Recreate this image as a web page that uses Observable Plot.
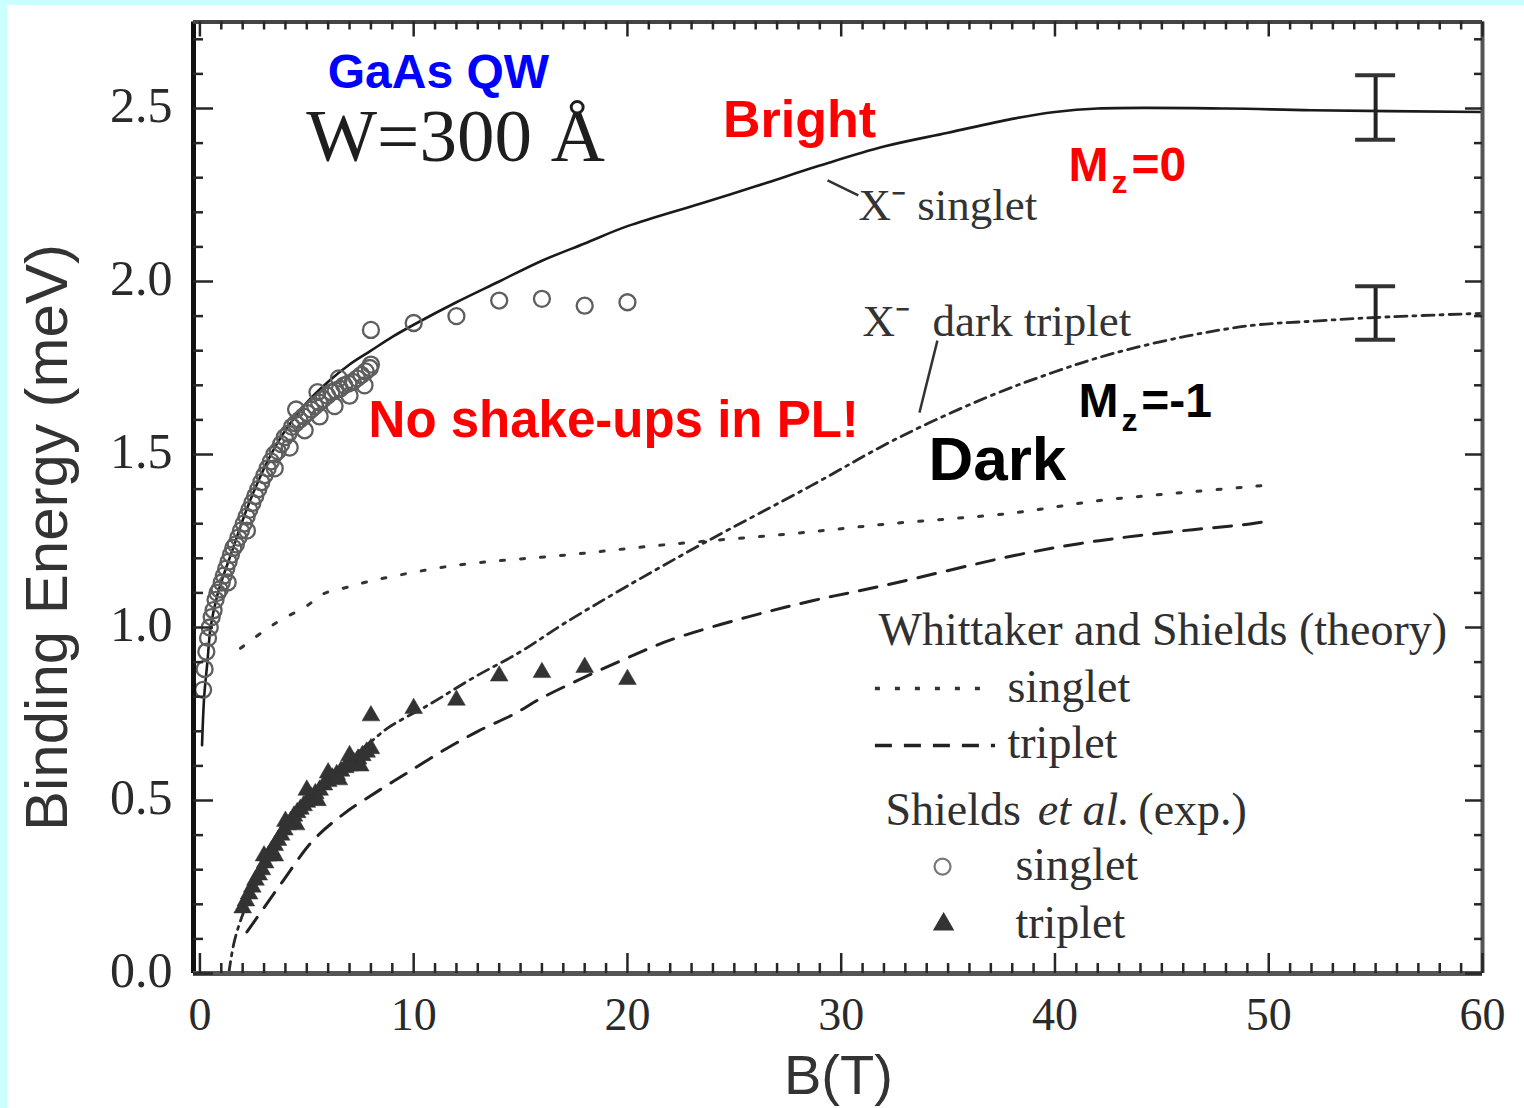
<!DOCTYPE html>
<html><head><meta charset="utf-8">
<script src="https://cdn.jsdelivr.net/npm/d3@7"></script>
<script src="https://cdn.jsdelivr.net/npm/@observablehq/plot@0.6"></script>
<style>
html,body{margin:0;padding:0;background:#ccffff;width:1524px;height:1108px;overflow:hidden;}
#chart{position:absolute;left:7px;top:5px;width:1517px;height:1103px;background:#fff;overflow:hidden;}
</style></head><body><div id="chart"></div>
<script>
// ---------- data (B in tesla, E in meV) ----------
const solidB = [0.1,0.2,0.35,0.5,0.8,1.1,1.5,2,2.5,3,3.5,4,5,6,7,8,9,10,12,14,16,18,20,23.4,26,29,32,35,38,40,42,48,52,60];
const solidE = [0.66,0.80,0.90,1.00,1.09,1.15,1.22,1.31,1.39,1.46,1.52,1.57,1.65,1.71,1.76,1.80,1.84,1.875,1.94,2.00,2.06,2.11,2.16,2.225,2.275,2.335,2.39,2.43,2.47,2.49,2.50,2.50,2.495,2.49];

const darkB = [1.35,1.6,2.0,2.5,3,4,5,6,7,8,8.8,10.8,12.8,15,17,20,23.6,28.6,32.6,36.8,39.9,42.6,46,49.2,52,55,60];
const darkE = [0.0,0.09,0.17,0.24,0.30,0.41,0.49,0.56,0.62,0.67,0.71,0.78,0.855,0.93,1.01,1.12,1.245,1.41,1.546,1.665,1.737,1.79,1.84,1.873,1.885,1.896,1.908];

const wsSingB = [1.9,3.0,3.9,4.9,5.8,6.8,7.7,8.8,12,17.2,21.9,27.5,32.3,37.9,42.1,46,49.7];
const wsSingE = [0.94,0.99,1.026,1.058,1.098,1.115,1.13,1.145,1.18,1.21,1.24,1.27,1.30,1.33,1.367,1.39,1.41];

const wsTripB = [2.2,3.8,5.3,6.7,8.4,9.7,11.4,13,14.7,16.1,20.8,22.3,25.6,28.7,31.9,38.1,41.2,44.5,49.2,49.7];
const wsTripE = [0.12,0.26,0.385,0.46,0.53,0.58,0.645,0.70,0.75,0.80,0.934,0.97,1.03,1.078,1.12,1.208,1.243,1.27,1.30,1.305];

const expSingB = [0.15,0.22,0.3,0.38,0.46,0.55,0.64,0.73,0.82,0.92,1.02,1.12,1.23,1.34,1.45,1.56,1.68,1.8,1.92,2.05,2.18,2.31,2.45,2.59,2.73,2.87,3.02,3.17,3.32,3.48,3.64,3.8,3.97,4.14,4.31,4.48,4.66,4.84,5.02,5.2,5.39,5.58,5.77,5.96,6.15,6.35,6.55,6.75,6.95,7.15,7.35,7.55,7.75,7.95,
  1.3,2.2,3.5,4.2,4.9,5.6,6.3,7.0,7.7,4.5,5.5,6.5,8.0,
  8,10,12,14,16,18,20];
const expSingE = [0.82,0.88,0.93,0.97,1.00,1.03,1.05,1.08,1.10,1.11,1.13,1.15,1.17,1.19,1.21,1.23,1.24,1.26,1.28,1.30,1.32,1.34,1.36,1.38,1.40,1.42,1.44,1.46,1.48,1.50,1.51,1.53,1.55,1.56,1.58,1.59,1.60,1.61,1.62,1.63,1.64,1.65,1.66,1.67,1.68,1.685,1.69,1.70,1.705,1.71,1.72,1.73,1.74,1.75,
  1.13,1.28,1.46,1.52,1.57,1.61,1.64,1.67,1.70,1.63,1.68,1.72,1.76,
  1.86,1.88,1.90,1.945,1.95,1.93,1.94];

const expTripB = [2.0,2.15,2.3,2.45,2.6,2.75,2.9,3.05,3.2,3.35,3.5,3.65,3.8,3.95,4.1,4.25,4.4,4.55,4.7,4.85,5.0,5.2,5.4,5.6,5.8,6.0,6.2,6.4,6.6,6.8,7.0,7.2,7.4,7.6,7.8,8.0,
  3.0,4.0,5.0,6.0,7.0,3.5,4.5,5.5,6.5,7.5,
  8,10,12,14,16,18,20];
const expTripE = [0.19,0.21,0.23,0.25,0.27,0.285,0.30,0.32,0.34,0.355,0.37,0.385,0.40,0.415,0.43,0.44,0.455,0.465,0.475,0.485,0.495,0.51,0.52,0.53,0.545,0.555,0.565,0.575,0.585,0.595,0.60,0.61,0.62,0.63,0.64,0.65,
  0.34,0.44,0.53,0.58,0.63,0.34,0.43,0.50,0.56,0.60,
  0.745,0.766,0.79,0.86,0.87,0.885,0.85];

const errB = [55, 55];
const errE = [2.503, 1.909];
const errD = [0.093, 0.077];

const xTickLabels = [0,10,20,30,40,50,60];
const yTickLabels = [0.0,0.5,1.0,1.5,2.0,2.5];

// ---------- layout ----------
const X0=-0.3, X1=60, Y0=0, Y1=2.75;
const W=1517, H=1103, mL=186, mR=42, mT=16.5, mB=135;
const kx=(X1-X0)/(W-mL-mR), ky=(Y1-Y0)/(H-mT-mB);

const rows = (bs, es) => bs.map((b,i)=>({B:b, E:es[i]}));
const solid = rows(solidB, solidE), dark = rows(darkB, darkE);
const wsS = rows(wsSingB, wsSingE), wsT = rows(wsTripB, wsTripE);
const exS = rows(expSingB, expSingE), exT = rows(expTripB, expTripE);
const err = errB.map((b,i)=>({B:b, E:errE[i], D:errD[i]}));

const xMajor = xTickLabels, yMajor = yTickLabels;
const xMinor = d3.range(1, 60).filter(v => v % 10 !== 0);
const yMinor = d3.range(1, 28).filter(i => i % 5 !== 0).map(i => i/10);

const SANS = "Liberation Sans, Arial, Helvetica, sans-serif";
const SERIF = "Liberation Serif, Times New Roman, serif";
const INK = "#262626";

// annotations (anchors in data units)
const notes = [
  {t:"GaAs QW", B:11.16, E:2.603, size:48, w:"bold", fill:"#0000ff", fam:SANS, a:"middle"},
  {t:"W=300 Å", B:11.96, E:2.419, size:75, w:"normal", fill:"#1e1e1e", fam:SERIF, a:"middle"},
  {t:"Bright", B:28.05, E:2.465, size:52, w:"bold", fill:"#ff0000", fam:SANS, a:"middle"},
  {t:"M", B:40.63, E:2.334, size:48, w:"bold", fill:"#ff0000", fam:SANS, a:"start"},
  {t:"z", B:42.65, E:2.286, size:32, w:"bold", fill:"#ff0000", fam:SANS, a:"start"},
  {t:"=0", B:43.58, E:2.334, size:48, w:"bold", fill:"#ff0000", fam:SANS, a:"start"},
  {t:"X⁻ singlet", B:30.81, E:2.22, size:45, w:"normal", fill:"#333", fam:SERIF, a:"start"},
  {t:"X⁻  dark triplet", B:31.0, E:1.884, size:45, w:"normal", fill:"#333", fam:SERIF, a:"start"},
  {t:"No shake-ups in PL!", B:7.89, E:1.598, size:51, w:"bold", fill:"#ff0000", fam:SANS, a:"start"},
  {t:"Dark", B:34.08, E:1.484, size:62, w:"bold", fill:"#000", fam:SANS, a:"start"},
  {t:"M", B:41.1, E:1.653, size:48, w:"bold", fill:"#000", fam:SANS, a:"start"},
  {t:"z", B:43.11, E:1.598, size:32, w:"bold", fill:"#000", fam:SANS, a:"start"},
  {t:"=-1", B:44.04, E:1.653, size:48, w:"bold", fill:"#000", fam:SANS, a:"start"}
];
const legendText = [
  {t:"Whittaker and Shields (theory)", B:31.75, E:0.991, s:"normal"},
  {t:"singlet", B:37.78, E:0.826, s:"normal"},
  {t:"triplet", B:37.78, E:0.665, s:"normal"},
  {t:"Shields", B:32.07, E:0.471, s:"normal"},
  {t:"et al.", B:39.2, E:0.471, s:"italic"},
  {t:"(exp.)", B:43.9, E:0.471, s:"normal"},
  {t:"singlet", B:38.15, E:0.312, s:"normal"},
  {t:"triplet", B:38.15, E:0.145, s:"normal"}
];
const leaders = [
  {x1:29.36, y1:2.292, x2:30.8, y2:2.249},
  {x1:34.5, y1:1.829, x2:33.66, y2:1.621}
];

const textMarks = notes.map(n => Plot.text([n], {
  x:"B", y:"E", text:"t", fontSize:n.size, fontWeight:n.w, fill:n.fill,
  fontFamily:n.fam, textAnchor:n.a, lineAnchor:"middle"
}));
const legendMarks = ["normal", "italic"].map(s => Plot.text(legendText.filter(d => d.s === s), {
  x:"B", y:"E", text:"t", fontStyle:s, fontSize:46, fontFamily:SERIF, fill:"#303030",
  textAnchor:"start", lineAnchor:"middle"
}));

const CURVE = "catmull-rom";

const plot = Plot.plot({
  width: W, height: H,
  marginLeft: mL, marginRight: mR, marginTop: mT, marginBottom: mB,
  x: {domain:[X0, X1], axis:null},
  y: {domain:[Y0, Y1], axis:null},
  style: {background:"transparent", fontFamily: SERIF, overflow:"visible"},
  marks: [
    // theory curves
    Plot.line(wsS, {x:"B", y:"E", stroke:"#333", strokeWidth:3, strokeDasharray:"4,16", curve:CURVE}),
    Plot.line(wsT, {x:"B", y:"E", stroke:"#222", strokeWidth:3, strokeDasharray:"18,12", curve:CURVE}),
    Plot.line(dark, {x:"B", y:"E", stroke:"#2a2a2a", strokeWidth:2.8, strokeDasharray:"12,6,3,6", curve:CURVE}),
    Plot.line(solid, {x:"B", y:"E", stroke:"#1a1a1a", strokeWidth:2.6, curve:CURVE}),
    // error bars
    Plot.ruleX(err, {x:"B", y1:d=>d.E-d.D, y2:d=>d.E+d.D, stroke:"#222", strokeWidth:4}),
    Plot.ruleY(err, {y:d=>d.E+d.D, x1:d=>d.B-20*kx, x2:d=>d.B+20*kx, stroke:"#333", strokeWidth:4}),
    Plot.ruleY(err, {y:d=>d.E-d.D, x1:d=>d.B-20*kx, x2:d=>d.B+20*kx, stroke:"#333", strokeWidth:4}),
    // experimental points
    Plot.dot(exS, {x:"B", y:"E", r:8, stroke:"#5e5e5e", strokeWidth:2.3, fill:"none"}),
    Plot.dot(exT, {x:"B", y:"E", r:6.6, symbol:"triangle", fill:"#333", stroke:"#333", strokeWidth:0.5}),
    // leader lines
    Plot.link(leaders, {x1:"x1", y1:"y1", x2:"x2", y2:"y2", stroke:"#333", strokeWidth:2.5}),
    // legend samples
    Plot.ruleY([0.824], {x1:31.6, x2:36.75, stroke:"#333", strokeWidth:3.5, strokeDasharray:"5,15"}),
    Plot.ruleY([0.659], {x1:31.6, x2:37.22, stroke:"#222", strokeWidth:3.5, strokeDasharray:"17,12"}),
    Plot.dot([{B:34.74, E:0.309}], {x:"B", y:"E", r:8, stroke:"#777", strokeWidth:2.2, fill:"none"}),
    Plot.dot([{B:34.79, E:0.142}], {x:"B", y:"E", r:7, symbol:"triangle", fill:"#333", stroke:"#333"}),
    ...legendMarks,
    // annotations
    ...textMarks,
    // frame
    Plot.ruleX([X0], {stroke:"#111", strokeWidth:5}),
    Plot.ruleX([X1], {stroke:"#555", strokeWidth:4}),
    Plot.ruleY([Y1], {stroke:"#444", strokeWidth:4}),
    Plot.ruleY([Y0], {stroke:"#555", strokeWidth:5}),
    // inward ticks: bottom / top
    Plot.ruleX(xMinor, {x:d=>d, y1:Y0, y2:Y0+10*ky, stroke:INK, strokeWidth:2.5}),
    Plot.ruleX(xMajor, {x:d=>d, y1:Y0, y2:Y0+20*ky, stroke:INK, strokeWidth:2.5}),
    Plot.ruleX(xMinor, {x:d=>d, y1:Y1, y2:Y1-8*ky, stroke:INK, strokeWidth:2.5}),
    Plot.ruleX(xMajor, {x:d=>d, y1:Y1, y2:Y1-15*ky, stroke:INK, strokeWidth:2.5}),
    // inward ticks: left / right
    Plot.ruleY(yMinor, {y:d=>d, x1:X0, x2:X0+10*kx, stroke:INK, strokeWidth:2.5}),
    Plot.ruleY(yMajor, {y:d=>d, x1:X0, x2:X0+20*kx, stroke:INK, strokeWidth:2.5}),
    Plot.ruleY(yMinor, {y:d=>d, x1:X1, x2:X1-8*kx, stroke:INK, strokeWidth:2.5}),
    Plot.ruleY(yMajor, {y:d=>d, x1:X1, x2:X1-17*kx, stroke:INK, strokeWidth:2.5}),
    // tick labels
    Plot.text(xTickLabels, {x:d=>d, frameAnchor:"bottom", text:d=>String(d), lineAnchor:"top", dy:24,
      fontSize:46, fontFamily:SERIF, fill:"#2a2a2a", ariaLabel:"xticklabels"}),
    Plot.text(yTickLabels, {y:d=>d, frameAnchor:"left", text:d=>d.toFixed(1), textAnchor:"end", lineAnchor:"middle", dx:-21, dy:-3,
      fontSize:50, fontFamily:SERIF, fill:"#2a2a2a", ariaLabel:"yticklabels"}),
    // axis titles
    Plot.text(["B(T)"], {x:29.87, frameAnchor:"bottom", text:d=>d, lineAnchor:"middle", dy:103,
      fontSize:56, fontFamily:SANS, fill:"#333"}),
    Plot.text(["Binding Energy (meV)"], {y:1.26, frameAnchor:"left", text:d=>d, rotate:-90, textAnchor:"middle", lineAnchor:"middle", dx:-146,
      fontSize:60, fontFamily:SANS, fill:"#333"})
  ]
});

document.getElementById("chart").appendChild(plot);

// stretch tick labels vertically (the original's digits are tall and narrow)
function stretch(label, sx, sy) {
  plot.querySelectorAll(`g[aria-label="${label}"] text`).forEach(t => {
    let tr = t.getAttribute("transform") || "";
    const x = t.getAttribute("x"), y = t.getAttribute("y");
    if (x !== null || y !== null) {
      tr += ` translate(${x || 0},${y || 0})`;
      t.removeAttribute("x"); t.removeAttribute("y");
    }
    t.setAttribute("transform", tr + ` scale(${sx},${sy})`);
  });
}
stretch("xticklabels", 0.88, 1.3);
stretch("yticklabels", 0.95, 1.2);
</script></body></html>
